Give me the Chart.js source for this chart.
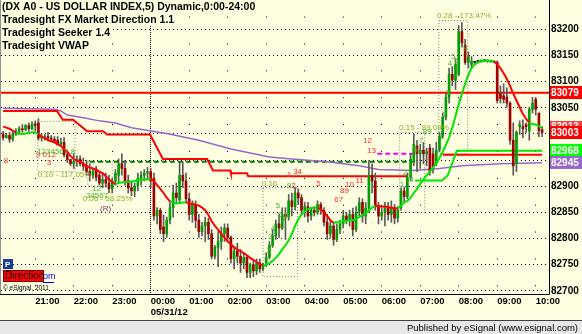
<!DOCTYPE html>
<html>
<head>
<meta charset="utf-8">
<script src="https://cdn.jsdelivr.net/npm/chart.js@4.4.1/dist/chart.umd.min.js"></script>
<style>
  html, body { margin: 0; padding: 0; background: #FFFFE1; }
  canvas { display: block; }
</style>
</head>
<body>
<canvas id="chart" width="582" height="334"></canvas>
<script>
// 5 minute bars of DX A0, first bar 20:10 on 05/30 (minutes counted from midnight 05/31/12)
const firstBarMinute = -230;
const barMinutes = 5;

const opens = [
  82999, 82993, 82997, 82990, 82999, 83005, 83010, 83008, 83016, 83010,
  83019, 83021, 82992, 82993, 82995, 82992, 82990, 82988, 82980, 82984,
  82960, 82951, 82943, 82947, 82952, 82943, 82938, 82928, 82921, 82930,
  82921, 82906, 82913, 82906, 82895, 82910, 82921, 82943, 82934, 82910,
  82897, 82891, 82900, 82915, 82921, 82925, 82928, 82915, 82843, 82854,
  82822, 82809, 82835, 82859, 82887, 82874, 82921, 82910, 82876, 82846,
  82865, 82835, 82813, 82824, 82831, 82809, 82766, 82783, 82794, 82809,
  82820, 82802, 82761, 82776, 82766, 82753, 82764, 82735, 82750, 82738,
  82753, 82742, 82753, 82764, 82787, 82805, 82828, 82820, 82846, 82841,
  82872, 82861, 82887, 82878, 82854, 82861, 82843, 82854, 82850, 82865,
  82854, 82831, 82809, 82824, 82798, 82817, 82828, 82843, 82835, 82846,
  82817, 82850, 82869, 82843, 82858, 82921, 82910, 82861, 82843, 82850,
  82861, 82846, 82858, 82839, 82859, 82891, 82880, 82917, 82947, 82977,
  82962, 82969, 82962, 82973, 82962, 82943, 82969, 82995, 83032, 83070,
  83114, 83103, 83114, 83196, 83170, 83137, 83133, 83137, 83139, 83139,
  83140, 83140, 83139, 83139, 83137, 83077, 83073, 83070, 83059, 82988,
  82943, 83014, 83014, 83018, 83006, 83047, 83066, 83040, 83008
];
const highs = [
  83005, 83001, 83003, 83003, 83010, 83014, 83018, 83018, 83021, 83023,
  83025, 83029, 82999, 82999, 83003, 82997, 82995, 82995, 82992, 82993,
  82967, 82952, 82962, 82958, 82958, 82954, 82949, 82943, 82934, 82938,
  82928, 82925, 82925, 82921, 82915, 82932, 82952, 82962, 82949, 82921,
  82910, 82906, 82925, 82928, 82932, 82936, 82934, 82925, 82859, 82858,
  82845, 82841, 82872, 82902, 82906, 82947, 82947, 82925, 82887, 82872,
  82872, 82846, 82831, 82841, 82839, 82817, 82787, 82813, 82822, 82828,
  82828, 82805, 82785, 82791, 82779, 82772, 82766, 82753, 82757, 82761,
  82761, 82753, 82772, 82794, 82817, 82835, 82846, 82859, 82859, 82884,
  82887, 82898, 82895, 82884, 82869, 82869, 82859, 82861, 82872, 82869,
  82859, 82846, 82835, 82831, 82828, 82835, 82854, 82850, 82854, 82858,
  82861, 82878, 82876, 82869, 82949, 82943, 82925, 82869, 82859, 82869,
  82869, 82872, 82865, 82861, 82897, 82898, 82925, 82962, 82999, 82988,
  82980, 82984, 82973, 82980, 82973, 82984, 83003, 83040, 83077, 83126,
  83129, 83144, 83207, 83213, 83181, 83157, 83148, 83139, 83140, 83142,
  83142, 83142, 83140, 83140, 83140, 83092, 83096, 83088, 83062, 83021,
  83006, 83025, 83027, 83021, 83051, 83070, 83070, 83040, 83014
];
const lows = [
  82988, 82992, 82984, 82986, 82997, 82999, 83003, 83006, 83005, 83008,
  83006, 82988, 82986, 82988, 82986, 82986, 82984, 82979, 82977, 82956,
  82945, 82939, 82934, 82938, 82939, 82930, 82921, 82910, 82915, 82910,
  82902, 82897, 82898, 82887, 82887, 82902, 82906, 82921, 82902, 82887,
  82882, 82880, 82891, 82902, 82910, 82913, 82897, 82835, 82828, 82809,
  82794, 82802, 82828, 82841, 82869, 82869, 82897, 82869, 82835, 82831,
  82820, 82802, 82805, 82794, 82798, 82761, 82761, 82746, 82779, 82794,
  82798, 82753, 82742, 82753, 82735, 82742, 82725, 82725, 82727, 82731,
  82735, 82738, 82746, 82761, 82783, 82798, 82802, 82817, 82798, 82835,
  82843, 82854, 82865, 82846, 82841, 82831, 82835, 82843, 82846, 82846,
  82824, 82798, 82802, 82787, 82794, 82809, 82820, 82828, 82824, 82805,
  82813, 82843, 82831, 82828, 82850, 82887, 82854, 82828, 82835, 82824,
  82835, 82831, 82828, 82831, 82854, 82869, 82876, 82910, 82939, 82928,
  82934, 82943, 82939, 82921, 82925, 82939, 82966, 82992, 83027, 83059,
  83092, 83085, 83111, 83166, 83133, 83126, 83126, 83135, 83137, 83137,
  83139, 83137, 83137, 83137, 83059, 83059, 83059, 83051, 82980, 82921,
  82928, 82999, 82993, 83003, 82988, 83040, 83036, 82995, 82995
];
const closes = [
  82993, 82997, 82990, 82999, 83005, 83010, 83008, 83016, 83010, 83019,
  83016, 82992, 82993, 82995, 82992, 82990, 82986, 82980, 82984, 82960,
  82951, 82943, 82947, 82952, 82943, 82938, 82928, 82921, 82930, 82917,
  82906, 82913, 82906, 82895, 82910, 82925, 82943, 82934, 82910, 82897,
  82891, 82900, 82915, 82921, 82925, 82928, 82910, 82843, 82854, 82817,
  82809, 82835, 82859, 82887, 82878, 82921, 82910, 82876, 82846, 82865,
  82835, 82813, 82824, 82831, 82809, 82766, 82783, 82794, 82809, 82820,
  82802, 82761, 82776, 82766, 82753, 82764, 82735, 82750, 82738, 82753,
  82742, 82750, 82764, 82787, 82805, 82828, 82820, 82846, 82841, 82872,
  82861, 82887, 82878, 82854, 82861, 82843, 82854, 82850, 82865, 82854,
  82831, 82809, 82824, 82798, 82817, 82828, 82843, 82835, 82846, 82817,
  82850, 82869, 82843, 82858, 82921, 82910, 82861, 82843, 82850, 82861,
  82846, 82858, 82839, 82854, 82891, 82880, 82917, 82952, 82980, 82962,
  82969, 82962, 82966, 82928, 82936, 82969, 82995, 83032, 83070, 83114,
  83103, 83133, 83196, 83174, 83137, 83148, 83139, 83137, 83139, 83140,
  83140, 83139, 83139, 83137, 83064, 83068, 83066, 83059, 82988, 82939,
  83003, 83018, 83010, 83014, 83047, 83059, 83047, 83006, 83003
];

// Tradesight FX Market Direction line, one value per bar
const marketDirection = [
  83014, 83012, 83010, 83006, 83003, 83000, 83000, 83001, 83002, 83003,
  83003, 82999, 82995, 82992, 82988, 82986, 82984, 82980, 82977, 82971,
  82966, 82958, 82952, 82949, 82947, 82943, 82939, 82936, 82934, 82932,
  82928, 82925, 82919, 82913, 82908, 82904, 82906, 82907, 82908, 82908,
  82909, 82910, 82912, 82912, 82913, 82913, 82914, 82910, 82902, 82895,
  82887, 82878, 82871, 82869, 82867, 82868, 82869, 82869, 82867, 82866,
  82865, 82863, 82859, 82854, 82845, 82833, 82824, 82817, 82809, 82802,
  82794, 82789, 82783, 82779, 82776, 82772, 82768, 82763, 82759, 82755,
  82751, 82748, 82750, 82753, 82757, 82763, 82770, 82779, 82787, 82796,
  82809, 82824, 82837, 82846, 82852, 82856, 82858, 82859, 82859, 82856,
  82850, 82843, 82835, 82830, 82831, 82831, 82833, 82834, 82835, 82835,
  82837, 82841, 82845, 82848, 82854, 82859, 82863, 82862, 82861, 82861,
  82860, 82859, 82858, 82858, 82863, 82869, 82872, 82878, 82887, 82895,
  82904, 82913, 82921, 82928, 82936, 82943, 82954, 82966, 82979, 82993,
  83012, 83034, 83057, 83077, 83096, 83113, 83126, 83133, 83137, 83139,
  83140, 83140, 83140, 83139, 83133, 83126, 83116, 83105, 83092, 83077,
  83064, 83051, 83038, 83029, 83021, 83019, 83018, 83015, 83012
];
// bar index ranges where the direction line is drawn green
const directionUpRuns = [[4, 11], [35, 46], [52, 57], [81, 98], [103, 116], [123, 153], [164, 168]];

// Tradesight VWAP
const vwapTimes = [-230, -150, -140, -130, -105, -80, -55, -30, 25, 75, 125, 185, 220, 275, 325, 355, 410, 450, 485, 545, 610];
const vwapValues = [83049, 83047, 83044, 83036, 83031, 83025, 83021, 83012, 83001, 82988, 82971, 82956, 82952, 82947, 82939, 82932, 82930, 82934, 82939, 82943, 82945];

// Seeker stops
const redStopTimes = [-230, -146, -137, -121, -99, -74, -68, -1, 19, 88, 97, 124, 125, 150, 152, 401];
const redStopValues = [83044, 83044, 83027, 83027, 83005, 83005, 82999, 82999, 82952, 82952, 82930, 82930, 82925, 82925, 82919, 82919];
const greenStopTimes = [412, 454, 463, 477, 610];
const greenStopValues = [82911, 82911, 82921, 82968, 82968];

// horizontal levels: [value, from, to]
const resistance = [83079, -240, 630];
const pivotDashed = [82947, -95, 415];
const magentaDashed = [82962, 353, 412];
const upperStop = [82960, 455, 610];

// Seeker count boxes: [from, to, top, bottom]
const seekerBoxes = [
  [-176, -118, 83024, 82928],
  [-98, -60, 82947, 82900],
  [175, 229, 82897, 82727],
  [388, 427, 83003, 82850],
  [449, 494, 83217, 82962]
];

// chart labels: [text, time, price, kind]
const seekerLabels = [
  ['0.10 - 117.05%', -176, 82921, 'pct'],
  ['0.06 - 58.25%', -106, 82876, 'pct'],
  ['(R)', -79, 82856, 'r'],
  ['0.16', 173, 82904, 'pct'],
  ['0.15 - 89.09%', 387, 83012, 'pct'],
  ['0.28 - 173.47%', 446, 83226, 'pct'],
  ['8', -229, 82949, 'dn'],
  ['9 012', -179, 82960, 'dn'],
  ['3', -162, 82945, 'dn'],
  ['1234567 8', -177, 82966, 'up'],
  ['12', -91, 82895, 'up'],
  ['34567', -101, 82882, 'up'],
  ['1', 212, 82921, 'dn'],
  ['34', 222, 82928, 'dn'],
  ['5', 258, 82904, 'dn'],
  ['67', 286, 82874, 'dn'],
  ['89', 295, 82891, 'dn'],
  ['10', 303, 82902, 'dn'],
  ['11', 319, 82910, 'dn'],
  ['12', 331, 82986, 'dn'],
  ['13', 337, 82967, 'dn'],
  ['1', 175, 82766, 'up'],
  ['2', 180, 82776, 'up'],
  ['3', 183, 82804, 'up'],
  ['4', 187, 82818, 'up'],
  ['5', 195, 82863, 'up'],
  ['6,8', 198, 82846, 'up'],
  ['7', 205, 82837, 'up'],
  ['9', 212, 82900, 'up'],
  ['2', 219, 82900, 'dn'],
  ['1', 388, 82902, 'up'],
  ['23', 393, 82925, 'up'],
  ['4', 403, 82912, 'up'],
  ['5', 409, 82969, 'up'],
  ['7', 418, 82986, 'up'],
  ['89', 424, 83005, 'up'],
  ['1', 449, 82995, 'up'],
  ['2', 454, 83036, 'up'],
  ['3', 459, 83079, 'up'],
  ['4', 463, 83135, 'up'],
  ['5', 468, 83148, 'up'],
  ['6', 473, 83139, 'up'],
  ['9', 487, 83163, 'up']
];
const labelColors = { pct: '#8DB02A', up: '#4CB030', dn: '#FF2A2A', r: '#8B3070' };

// price tags on the right axis: [value, colour]
const priceTags = [[83079, '#FF0000'], [83013, '#FF3A3A'], [83003, '#FF0000'], [82968, '#00FF00'], [82945, '#9966CC']];

// axes
const timeMin = -233.3, timeMax = 620.7;
const priceMin = 82693.8, priceMax = 83240.9;
const hourTicks = [-180, -120, -60, 0, 60, 120, 180, 240, 300, 360, 420, 480, 540, 600];
const hourLabels = ['21:00', '22:00', '23:00', '00:00', '01:00', '02:00', '03:00', '04:00', '05:00', '06:00', '07:00', '08:00', '09:00', '10:00'];
const dateLabel = '05/31/12';
const priceTicks = [82700, 82750, 82800, 82850, 82900, 82950, 83000, 83050, 83100, 83150, 83200];

const titleLines = ['(DX A0 - US DOLLAR INDEX,5) Dynamic,0:00-24:00', 'Tradesight FX Market Direction 1.1', 'Tradesight Seeker 1.4', 'Tradesight VWAP'];

const FONT = '"Liberation Sans", Arial, sans-serif';
const bg = '#FFFFE1';

const barTimes = opens.map((_, i) => firstBarMinute + i * barMinutes);
const isUpSegment = (a, b) => directionUpRuns.some(([s, e]) => a >= s && b <= e);
const hline = lv => [{ x: lv[1], y: lv[0] }, { x: lv[2], y: lv[0] }];
const pts = (xs, ys) => xs.map((x, i) => ({ x: x, y: ys[i] }));

const lineBase = { type: 'line', pointRadius: 0, tension: 0, fill: false };

const datasets = [
  Object.assign({}, lineBase, {
    label: 'Market Direction', order: 1, borderWidth: 2,
    data: barTimes.map((t, i) => ({ x: t, y: marketDirection[i] })),
    segment: { borderColor: c => isUpSegment(c.p0DataIndex, c.p1DataIndex) ? '#00E600' : '#FF0000' }
  }),
  {
    type: 'bar', label: 'bodies', order: 4, grouped: false, barThickness: 2, minBarLength: 1,
    data: barTimes.map((t, i) => ({ x: t, y: [opens[i], closes[i]] })),
    backgroundColor: opens.map((o, i) => closes[i] > o ? '#00A000' : (closes[i] < o ? '#A00000' : '#000000'))
  },
  {
    type: 'bar', label: 'wicks', order: 5, grouped: false, barThickness: 1,
    data: barTimes.map((t, i) => ({ x: t, y: [lows[i], highs[i]] })),
    backgroundColor: '#5A5A5A'
  },
  Object.assign({}, lineBase, { label: 'red stop', order: 6, borderWidth: 2, borderColor: '#FF0000', data: pts(redStopTimes, redStopValues) }),
  Object.assign({}, lineBase, { label: 'green stop', order: 6, borderWidth: 2, borderColor: '#00E600', data: pts(greenStopTimes, greenStopValues) }),
  Object.assign({}, lineBase, { label: 'VWAP', order: 7, borderWidth: 1.5, borderColor: '#9966CC', data: pts(vwapTimes, vwapValues) }),
  Object.assign({}, lineBase, { label: 'resistance', order: 8, borderWidth: 2, borderColor: '#FF0000', data: hline(resistance) }),
  Object.assign({}, lineBase, { label: 'upper stop', order: 8, borderWidth: 2, borderColor: '#FF0000', data: hline(upperStop) }),
  Object.assign({}, lineBase, { label: 'pivot', order: 8, borderWidth: 2, borderColor: '#008000', borderDash: [5, 3], data: hline(pivotDashed) }),
  Object.assign({}, lineBase, { label: 'magenta', order: 8, borderWidth: 2, borderColor: '#FF00FF', borderDash: [5, 3], data: hline(magentaDashed) })
];
seekerBoxes.forEach((b, k) => {
  datasets.push(Object.assign({}, lineBase, {
    label: 'box' + k, order: 9, borderWidth: 1, borderColor: '#7A7A7A', borderDash: [1, 2],
    data: [{ x: b[0], y: b[2] }, { x: b[1], y: b[2] }, { x: b[1], y: b[3] }, { x: b[0], y: b[3] }, { x: b[0], y: b[2] }]
  }));
});

// background, titles, chart labels, tags and status bar
const esignalLook = {
  id: 'esignalLook',
  beforeDraw(chart) {
    const ctx = chart.ctx;
    ctx.save();
    ctx.fillStyle = bg;
    ctx.fillRect(0, 0, chart.width, chart.height);
    ctx.restore();
  },
  afterDatasetsDraw(chart) {
    const ctx = chart.ctx, xs = chart.scales.x, ys = chart.scales.y;
    ctx.save();
    ctx.textBaseline = 'middle';
    ctx.textAlign = 'left';
    ctx.font = '8px ' + FONT;
    seekerLabels.forEach(([txt, t, p, kind]) => {
      ctx.fillStyle = labelColors[kind];
      ctx.fillText(txt, xs.getPixelForValue(t), ys.getPixelForValue(p));
    });
    ctx.restore();
  },
  afterDraw(chart) {
    const ctx = chart.ctx, ys = chart.scales.y, area = chart.chartArea;
    ctx.save();
    // titles
    ctx.font = 'bold 10.5px ' + FONT;
    ctx.textBaseline = 'middle';
    ctx.textAlign = 'left';
    titleLines.forEach((txt, k) => {
      const y = 7 + k * 13;
      const w = ctx.measureText(txt).width;
      ctx.fillStyle = bg;
      ctx.fillRect(1, y - 6, w + 3, 12);
      ctx.fillStyle = '#000';
      ctx.fillText(txt, 2, y);
    });
    // frame
    ctx.strokeStyle = '#000';
    ctx.lineWidth = 1;
    ctx.beginPath();
    ctx.moveTo(area.right + 0.5, 0);
    ctx.lineTo(area.right + 0.5, area.bottom + 0.5);
    ctx.lineTo(0, area.bottom + 0.5);
    ctx.stroke();
    ctx.strokeStyle = '#909090';
    ctx.beginPath();
    ctx.moveTo(0.5, 0);
    ctx.lineTo(0.5, area.bottom);
    ctx.stroke();
    // price tags
    ctx.font = 'bold 10px ' + FONT;
    priceTags.forEach(([v, col]) => {
      const y = ys.getPixelForValue(v);
      ctx.fillStyle = col;
      ctx.fillRect(area.right + 1, Math.round(y - 6.5), 32, 13);
      ctx.fillStyle = '#FFF';
      ctx.fillText(String(v), area.right + 2, y + 0.5);
    });
    // bottom left widgets
    ctx.fillStyle = '#1C3C94';
    ctx.fillRect(3, 259, 10, 10);
    ctx.fillStyle = '#FFF';
    ctx.font = 'bold 8px ' + FONT;
    ctx.fillText('P', 5, 264.5);
    ctx.fillStyle = '#0000FF';
    ctx.font = '9px ' + FONT;
    ctx.fillText('om', 43, 277);
    ctx.fillRect(43, 282, 11, 1);
    ctx.fillStyle = '#FF0000';
    ctx.fillRect(3, 270, 41, 12);
    ctx.strokeStyle = '#800000';
    ctx.strokeRect(3.5, 270.5, 40, 11);
    ctx.fillStyle = '#000';
    ctx.font = '10px ' + FONT;
    ctx.fillText('Direction', 5, 276.5);
    ctx.font = '6.5px ' + FONT;
    ctx.fillText('\u00A9 eSignal, 2011', 3, 288);
    // status bar
    ctx.fillStyle = '#E8E8E8';
    ctx.fillRect(0, 321, chart.width, 13);
    ctx.fillStyle = '#404040';
    ctx.fillRect(0, 320, chart.width, 1);
    ctx.fillStyle = '#000';
    ctx.font = '9.5px ' + FONT;
    ctx.textAlign = 'right';
    ctx.fillText('Published by eSignal (www.esignal.com)', 578, 328);
    ctx.restore();
  }
};

new Chart(document.getElementById('chart'), {
  type: 'bar',
  data: { datasets: datasets },
  plugins: [esignalLook],
  options: {
    responsive: false,
    animation: false,
    devicePixelRatio: 1,
    layout: { padding: { left: 1, right: 0, top: 0, bottom: 14 } },
    plugins: { legend: { display: false }, tooltip: { enabled: false } },
    scales: {
      x: {
        type: 'linear', min: timeMin, max: timeMax, offset: false,
        afterFit: s => { s.height = 26; },
        afterBuildTicks: s => { s.ticks = hourTicks.map(v => ({ value: v })); },
        grid: { offset: false, color: '#000', lineWidth: 1, drawTicks: false },
        border: {
          display: false,
          dash: c => (c.tick && c.tick.value === 0) ? [1, 1] : [1, 25.87],
          dashOffset: c => (c.tick && c.tick.value === 0) ? 0 : 18.27
        },
        ticks: {
          autoSkip: false, maxRotation: 0, minRotation: 0, align: 'start', padding: 1,
          color: '#000', font: { family: FONT, size: 9.5, weight: 'bold', lineHeight: 1.25 },
          callback: v => {
            const k = hourTicks.indexOf(v);
            return v === 0 ? [hourLabels[k], dateLabel] : hourLabels[k];
          }
        }
      },
      y: {
        type: 'linear', position: 'right', min: priceMin, max: priceMax,
        afterFit: s => { s.width = 33; },
        afterBuildTicks: s => { s.ticks = priceTicks.map(v => ({ value: v })); },
        grid: { color: '#000', lineWidth: 1, drawTicks: false },
        border: { display: false, dash: [1, 3] },
        ticks: {
          padding: 2, color: '#000',
          font: { family: FONT, size: 10, weight: 'bold' },
          callback: v => String(v)
        }
      }
    }
  }
});
</script>
</body>
</html>
